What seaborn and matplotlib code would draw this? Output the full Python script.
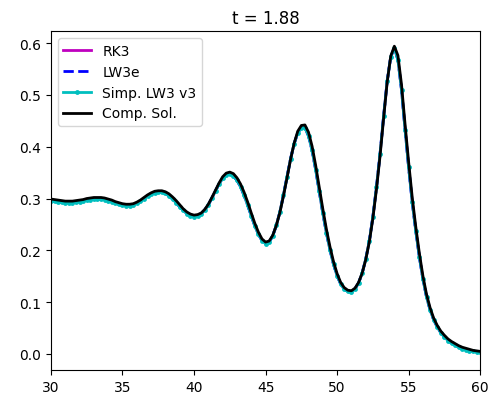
import matplotlib
matplotlib.use("Agg")
import matplotlib.pyplot as plt
import seaborn as sns

# sample positions (every 0.25)
x_vals = [30.00, 30.25, 30.50, 30.75, 31.00, 31.25, 31.50, 31.75, 32.00, 32.25,
          32.50, 32.75, 33.00, 33.25, 33.50, 33.75, 34.00, 34.25, 34.50, 34.75,
          35.00, 35.25, 35.50, 35.75, 36.00, 36.25, 36.50, 36.75, 37.00, 37.25,
          37.50, 37.75, 38.00, 38.25, 38.50, 38.75, 39.00, 39.25, 39.50, 39.75,
          40.00, 40.25, 40.50, 40.75, 41.00, 41.25, 41.50, 41.75, 42.00, 42.25,
          42.50, 42.75, 43.00, 43.25, 43.50, 43.75, 44.00, 44.25, 44.50, 44.75,
          45.00, 45.25, 45.50, 45.75, 46.00, 46.25, 46.50, 46.75, 47.00, 47.25,
          47.50, 47.75, 48.00, 48.25, 48.50, 48.75, 49.00, 49.25, 49.50, 49.75,
          50.00, 50.25, 50.50, 50.75, 51.00, 51.25, 51.50, 51.75, 52.00, 52.25,
          52.50, 52.75, 53.00, 53.25, 53.50, 53.75, 54.00, 54.25, 54.50, 54.75,
          55.00, 55.25, 55.50, 55.75, 56.00, 56.25, 56.50, 56.75, 57.00, 57.25,
          57.50, 57.75, 58.00, 58.25, 58.50, 58.75, 59.00, 59.25, 59.50, 59.75,
          60.00]

# computed (reference) solution
comp_sol = [0.299, 0.298, 0.297, 0.296, 0.295, 0.295, 0.295, 0.296, 0.297, 0.298,
            0.300, 0.301, 0.302, 0.302, 0.302, 0.301, 0.299, 0.297, 0.294, 0.292,
            0.290, 0.289, 0.289, 0.290, 0.293, 0.297, 0.302, 0.307, 0.311, 0.314,
            0.315, 0.315, 0.313, 0.309, 0.303, 0.296, 0.288, 0.280, 0.274, 0.270,
            0.268, 0.269, 0.272, 0.279, 0.289, 0.302, 0.316, 0.330, 0.342, 0.349,
            0.351, 0.348, 0.340, 0.328, 0.312, 0.293, 0.272, 0.252, 0.235, 0.222,
            0.216, 0.218, 0.229, 0.248, 0.273, 0.305, 0.340, 0.376, 0.407, 0.430,
            0.441, 0.442, 0.428, 0.401, 0.364, 0.322, 0.280, 0.241, 0.207, 0.178,
            0.155, 0.138, 0.128, 0.123, 0.122, 0.127, 0.138, 0.156, 0.182, 0.216,
            0.262, 0.318, 0.382, 0.455, 0.525, 0.575, 0.594, 0.576, 0.520, 0.443,
            0.370, 0.302, 0.245, 0.194, 0.150, 0.115, 0.089, 0.069, 0.055, 0.044,
            0.036, 0.029, 0.024, 0.020, 0.016, 0.013, 0.011, 0.009, 0.007, 0.006,
            0.005]

# the three schemes sit practically on top of each other, a hair below
scheme_sol = [0.296, 0.295, 0.294, 0.293, 0.292, 0.292, 0.292, 0.293, 0.294, 0.295,
              0.297, 0.298, 0.299, 0.299, 0.299, 0.298, 0.296, 0.294, 0.291, 0.289,
              0.287, 0.286, 0.286, 0.288, 0.291, 0.295, 0.300, 0.305, 0.309, 0.311,
              0.312, 0.312, 0.310, 0.305, 0.299, 0.292, 0.284, 0.277, 0.271, 0.267,
              0.265, 0.267, 0.271, 0.278, 0.288, 0.301, 0.315, 0.328, 0.339, 0.346,
              0.348, 0.344, 0.335, 0.323, 0.306, 0.287, 0.267, 0.247, 0.231, 0.219,
              0.213, 0.216, 0.228, 0.248, 0.274, 0.307, 0.342, 0.377, 0.406, 0.427,
              0.437, 0.437, 0.421, 0.393, 0.356, 0.314, 0.272, 0.234, 0.201, 0.173,
              0.151, 0.135, 0.125, 0.121, 0.120, 0.126, 0.137, 0.156, 0.183, 0.218,
              0.265, 0.322, 0.386, 0.459, 0.527, 0.574, 0.590, 0.568, 0.510, 0.433,
              0.360, 0.293, 0.237, 0.187, 0.144, 0.110, 0.085, 0.066, 0.052, 0.041,
              0.033, 0.026, 0.021, 0.017, 0.013, 0.010, 0.008, 0.006, 0.005, 0.004,
              0.003]

series = [
    ("RK3", "m", "-", None),
    ("LW3e", "b", "--", None),
    ("Simp. LW3 v3", "c", "-", "o"),
]

fig, ax = plt.subplots(figsize=(4.9, 4.02), dpi=100)
fig.subplots_adjust(left=0.104, right=0.98, top=0.92, bottom=0.077)

for name, col, ls, mk in series:
    sns.lineplot(x=x_vals, y=scheme_sol, ax=ax, color=col, linestyle=ls,
                 marker=mk, markersize=3.5, markeredgewidth=0, linewidth=2, label=name)
sns.lineplot(x=x_vals, y=comp_sol, ax=ax, color="k", linewidth=2, label="Comp. Sol.")

ax.set_xlim(30, 60)
ax.set_ylim(-0.031, 0.623)
ax.set_title("t = 1.88")
ax.legend(loc="upper left")

fig.savefig("out.png", dpi=100)
